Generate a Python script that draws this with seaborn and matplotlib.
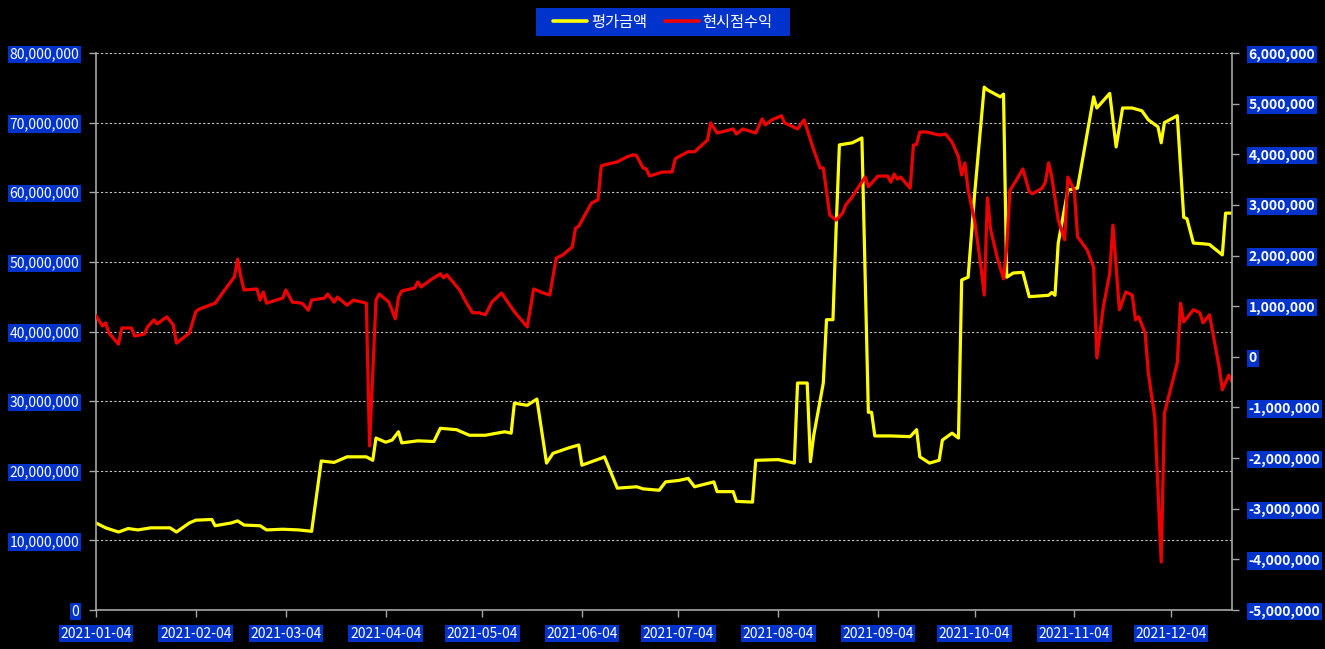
import matplotlib
matplotlib.use("Agg")
import matplotlib.pyplot as plt
import matplotlib.dates as mdates
from matplotlib.ticker import FixedLocator, FuncFormatter
from matplotlib.lines import Line2D
from matplotlib.patches import Rectangle
import seaborn as sns
import pandas as pd

# ---------------- data ----------------
eval_dates = [
    "2021-01-04", "2021-01-07", "2021-01-11", "2021-01-14", "2021-01-17", "2021-01-21", "2021-01-27", "2021-01-29", "2021-02-02", "2021-02-04",
    "2021-02-09", "2021-02-10", "2021-02-15", "2021-02-17", "2021-02-19", "2021-02-24", "2021-02-26", "2021-03-03", "2021-03-08", "2021-03-12",
    "2021-03-15", "2021-03-19", "2021-03-23", "2021-03-29", "2021-03-31", "2021-04-01", "2021-04-04", "2021-04-06", "2021-04-08", "2021-04-09",
    "2021-04-14", "2021-04-19", "2021-04-21", "2021-04-26", "2021-04-30", "2021-05-05", "2021-05-11", "2021-05-13", "2021-05-14", "2021-05-18",
    "2021-05-21", "2021-05-24", "2021-05-26", "2021-05-31", "2021-06-03", "2021-06-04", "2021-06-07", "2021-06-10", "2021-06-11", "2021-06-15",
    "2021-06-21", "2021-06-23", "2021-06-28", "2021-06-30", "2021-07-04", "2021-07-07", "2021-07-09", "2021-07-15", "2021-07-16", "2021-07-21",
    "2021-07-22", "2021-07-27", "2021-07-28", "2021-08-04", "2021-08-09", "2021-08-10", "2021-08-13", "2021-08-14", "2021-08-15", "2021-08-18",
    "2021-08-19", "2021-08-21", "2021-08-22", "2021-08-23", "2021-08-27", "2021-08-30", "2021-09-01", "2021-09-02", "2021-09-03", "2021-09-08",
    "2021-09-14", "2021-09-16", "2021-09-17", "2021-09-20", "2021-09-23", "2021-09-24", "2021-09-27", "2021-09-29", "2021-09-30", "2021-10-02",
    "2021-10-04", "2021-10-07", "2021-10-08", "2021-10-12", "2021-10-13", "2021-10-14", "2021-10-16", "2021-10-19", "2021-10-21", "2021-10-27",
    "2021-10-28", "2021-10-29", "2021-10-30", "2021-11-02", "2021-11-05", "2021-11-10", "2021-11-11", "2021-11-15", "2021-11-17", "2021-11-19",
    "2021-11-22", "2021-11-25", "2021-11-27", "2021-11-30", "2021-12-01", "2021-12-02", "2021-12-06", "2021-12-08", "2021-12-09", "2021-12-11",
    "2021-12-14", "2021-12-16", "2021-12-20", "2021-12-21", "2021-12-23",
]
eval_values = [
    12.5e6, 11.8e6, 11.2e6, 11.7e6, 11.5e6, 11.8e6, 11.8e6, 11.2e6, 12.5e6, 12.9e6,
    13.0e6, 12.1e6, 12.5e6, 12.8e6, 12.2e6, 12.1e6, 11.5e6, 11.6e6, 11.5e6, 11.3e6,
    21.4e6, 21.2e6, 22.0e6, 22.0e6, 21.5e6, 24.7e6, 24.1e6, 24.4e6, 25.6e6, 24.0e6,
    24.3e6, 24.2e6, 26.1e6, 25.9e6, 25.1e6, 25.1e6, 25.6e6, 25.4e6, 29.7e6, 29.4e6,
    30.3e6, 21.1e6, 22.5e6, 23.3e6, 23.7e6, 20.8e6, 21.3e6, 21.8e6, 22.0e6, 17.5e6,
    17.7e6, 17.4e6, 17.2e6, 18.4e6, 18.6e6, 18.9e6, 17.7e6, 18.4e6, 17.0e6, 17.0e6,
    15.6e6, 15.5e6, 21.5e6, 21.6e6, 21.1e6, 32.6e6, 32.6e6, 21.3e6, 25.0e6, 32.6e6,
    41.7e6, 41.7e6, 55.0e6, 66.8e6, 67.1e6, 67.8e6, 28.4e6, 28.4e6, 25.0e6, 25.0e6,
    24.9e6, 25.9e6, 22.0e6, 21.1e6, 21.5e6, 24.4e6, 25.4e6, 24.7e6, 47.4e6, 47.8e6,
    59.6e6, 75.1e6, 74.7e6, 73.7e6, 74.1e6, 47.8e6, 48.4e6, 48.5e6, 45.0e6, 45.2e6,
    45.6e6, 45.2e6, 52.7e6, 60.3e6, 60.6e6, 73.7e6, 72.1e6, 74.2e6, 66.5e6, 72.1e6,
    72.1e6, 71.7e6, 70.4e6, 69.4e6, 67.1e6, 70.0e6, 71.0e6, 56.4e6, 56.2e6, 52.7e6,
    52.6e6, 52.5e6, 51.0e6, 57.0e6, 57.0e6,
]

profit_dates = [
    "2021-01-04", "2021-01-06", "2021-01-07", "2021-01-08", "2021-01-11", "2021-01-12", "2021-01-15", "2021-01-16", "2021-01-19", "2021-01-20",
    "2021-01-22", "2021-01-23", "2021-01-26", "2021-01-28", "2021-01-29", "2021-02-02", "2021-02-04", "2021-02-05", "2021-02-10", "2021-02-16",
    "2021-02-17", "2021-02-18", "2021-02-19", "2021-02-23", "2021-02-24", "2021-02-25", "2021-02-26", "2021-03-03", "2021-03-04", "2021-03-06",
    "2021-03-09", "2021-03-11", "2021-03-12", "2021-03-16", "2021-03-17", "2021-03-19", "2021-03-20", "2021-03-23", "2021-03-25", "2021-03-29",
    "2021-03-30", "2021-04-01", "2021-04-02", "2021-04-05", "2021-04-07", "2021-04-08", "2021-04-09", "2021-04-13", "2021-04-14", "2021-04-15",
    "2021-04-18", "2021-04-21", "2021-04-22", "2021-04-23", "2021-04-27", "2021-04-29", "2021-05-01", "2021-05-03", "2021-05-05", "2021-05-07",
    "2021-05-10", "2021-05-14", "2021-05-18", "2021-05-20", "2021-05-23", "2021-05-25", "2021-05-27", "2021-05-29", "2021-06-01", "2021-06-02",
    "2021-06-03", "2021-06-07", "2021-06-09", "2021-06-10", "2021-06-11", "2021-06-15", "2021-06-18", "2021-06-20", "2021-06-21", "2021-06-23",
    "2021-06-24", "2021-06-25", "2021-06-29", "2021-07-02", "2021-07-03", "2021-07-04", "2021-07-07", "2021-07-09", "2021-07-13", "2021-07-14",
    "2021-07-16", "2021-07-21", "2021-07-22", "2021-07-24", "2021-07-28", "2021-07-30", "2021-07-31", "2021-08-02", "2021-08-05", "2021-08-06",
    "2021-08-10", "2021-08-12", "2021-08-15", "2021-08-17", "2021-08-18", "2021-08-20", "2021-08-22", "2021-08-24", "2021-08-25", "2021-08-27",
    "2021-08-29", "2021-08-31", "2021-09-01", "2021-09-04", "2021-09-07", "2021-09-08", "2021-09-09", "2021-09-10", "2021-09-11", "2021-09-14",
    "2021-09-15", "2021-09-16", "2021-09-17", "2021-09-19", "2021-09-23", "2021-09-25", "2021-09-27", "2021-09-29", "2021-09-30", "2021-10-01",
    "2021-10-02", "2021-10-04", "2021-10-06", "2021-10-07", "2021-10-08", "2021-10-09", "2021-10-11", "2021-10-13", "2021-10-14", "2021-10-15",
    "2021-10-17", "2021-10-19", "2021-10-21", "2021-10-22", "2021-10-25", "2021-10-26", "2021-10-27", "2021-10-28", "2021-10-30", "2021-11-01",
    "2021-11-02", "2021-11-04", "2021-11-05", "2021-11-08", "2021-11-10", "2021-11-11", "2021-11-13", "2021-11-15", "2021-11-16", "2021-11-18",
    "2021-11-20", "2021-11-22", "2021-11-23", "2021-11-24", "2021-11-26", "2021-11-27", "2021-11-29", "2021-12-01", "2021-12-02", "2021-12-06",
    "2021-12-07", "2021-12-08", "2021-12-11", "2021-12-13", "2021-12-14", "2021-12-16", "2021-12-19", "2021-12-20", "2021-12-22", "2021-12-23",
]
profit_values = [
    0.81e6, 0.61e6, 0.67e6, 0.47e6, 0.25e6, 0.57e6, 0.57e6, 0.41e6, 0.45e6, 0.59e6,
    0.73e6, 0.65e6, 0.79e6, 0.63e6, 0.27e6, 0.47e6, 0.89e6, 0.94e6, 1.06e6, 1.58e6,
    1.93e6, 1.58e6, 1.32e6, 1.34e6, 1.12e6, 1.28e6, 1.06e6, 1.16e6, 1.32e6, 1.08e6,
    1.06e6, 0.92e6, 1.12e6, 1.16e6, 1.24e6, 1.08e6, 1.18e6, 1.02e6, 1.12e6, 1.06e6,
    -1.76e6, 1.12e6, 1.24e6, 1.08e6, 0.75e6, 1.18e6, 1.30e6, 1.36e6, 1.48e6, 1.38e6,
    1.52e6, 1.64e6, 1.56e6, 1.62e6, 1.32e6, 1.08e6, 0.87e6, 0.87e6, 0.83e6, 1.08e6,
    1.26e6, 0.89e6, 0.59e6, 1.34e6, 1.26e6, 1.22e6, 1.95e6, 2.01e6, 2.17e6, 2.54e6,
    2.58e6, 3.04e6, 3.10e6, 3.77e6, 3.79e6, 3.85e6, 3.95e6, 3.99e6, 3.97e6, 3.73e6,
    3.71e6, 3.57e6, 3.65e6, 3.65e6, 3.91e6, 3.95e6, 4.05e6, 4.05e6, 4.28e6, 4.62e6,
    4.42e6, 4.50e6, 4.40e6, 4.50e6, 4.42e6, 4.70e6, 4.58e6, 4.68e6, 4.76e6, 4.62e6,
    4.50e6, 4.68e6, 4.09e6, 3.73e6, 3.73e6, 2.80e6, 2.70e6, 2.84e6, 3.00e6, 3.16e6,
    3.36e6, 3.55e6, 3.36e6, 3.57e6, 3.57e6, 3.45e6, 3.61e6, 3.51e6, 3.55e6, 3.33e6,
    4.18e6, 4.20e6, 4.44e6, 4.44e6, 4.38e6, 4.40e6, 4.24e6, 3.95e6, 3.59e6, 3.83e6,
    3.29e6, 2.70e6, 1.77e6, 1.22e6, 3.14e6, 2.51e6, 1.97e6, 1.54e6, 2.17e6, 3.29e6,
    3.49e6, 3.71e6, 3.26e6, 3.22e6, 3.33e6, 3.45e6, 3.83e6, 3.55e6, 2.70e6, 2.31e6,
    3.55e6, 3.29e6, 2.37e6, 2.11e6, 1.77e6, -0.02e6, 0.98e6, 1.65e6, 2.60e6, 0.93e6,
    1.28e6, 1.22e6, 0.73e6, 0.79e6, 0.47e6, -0.32e6, -1.19e6, -4.05e6, -1.11e6, -0.12e6,
    1.06e6, 0.69e6, 0.93e6, 0.87e6, 0.67e6, 0.83e6, -0.20e6, -0.65e6, -0.36e6, -0.49e6,
]

series_names = ["평가금액", "현시점수익"]
left_ticks = [0, 10e6, 20e6, 30e6, 40e6, 50e6, 60e6, 70e6, 80e6]
right_ticks = [-5e6, -4e6, -3e6, -2e6, -1e6, 0, 1e6, 2e6, 3e6, 4e6, 5e6, 6e6]
x_ticks = ["2021-01-04", "2021-02-04", "2021-03-04", "2021-04-04", "2021-05-04", "2021-06-04",
           "2021-07-04", "2021-08-04", "2021-09-04", "2021-10-04", "2021-11-04", "2021-12-04"]
x_range = ["2021-01-04", "2021-12-23"]

# ---------------- style ----------------
BG = "#000000"
BOX = "#0033CC"
AXC = "#A6A6A6"
YEL = "#FFFF00"
RED = "#EE0000"

sns.set_style("dark")
plt.rcParams["font.family"] = ["Noto Sans CJK KR", "DejaVu Sans"]
plt.rcParams["axes.unicode_minus"] = False

df_eval = pd.DataFrame({"date": pd.to_datetime(eval_dates), "value": eval_values})
df_profit = pd.DataFrame({"date": pd.to_datetime(profit_dates), "value": profit_values})

fig = plt.figure(figsize=(13.25, 6.49), dpi=100, facecolor=BG)
ax = fig.add_axes([96 / 1325, 39 / 649, 1136 / 1325, 557 / 649])
ax.set_facecolor(BG)
ax2 = ax.twinx()

sns.lineplot(data=df_eval, x="date", y="value", ax=ax, color=YEL, linewidth=2.3,
             legend=False, errorbar=None)
sns.lineplot(data=df_profit, x="date", y="value", ax=ax2, color=RED, linewidth=2.3,
             legend=False, errorbar=None)

ax.set_xlim(pd.to_datetime(x_range[0]), pd.to_datetime(x_range[1]))
ax.set_ylim(left_ticks[0], left_ticks[-1])
ax2.set_ylim(right_ticks[0], right_ticks[-1])

ax.set_xlabel("")
ax.set_ylabel("")
ax2.set_ylabel("")

fmt = FuncFormatter(lambda v, p: f"{v:,.0f}")
ax.yaxis.set_major_locator(FixedLocator(left_ticks))
ax.yaxis.set_major_formatter(fmt)
ax2.yaxis.set_major_locator(FixedLocator(right_ticks))
ax2.yaxis.set_major_formatter(fmt)
ax.xaxis.set_major_locator(FixedLocator(mdates.date2num(pd.to_datetime(x_ticks))))
ax.xaxis.set_major_formatter(mdates.DateFormatter("%Y-%m-%d"))

ax.grid(False)
ax2.grid(False)
ax.yaxis.grid(True, color="#C8C8C8", linestyle=(0, (2, 2)), linewidth=0.8)
ax.set_axisbelow(True)

for a in (ax, ax2):
    for s in a.spines.values():
        s.set_visible(False)
ax.spines["left"].set_visible(True)
ax.spines["bottom"].set_visible(True)
ax2.spines["right"].set_visible(True)
for s in (ax.spines["left"], ax.spines["bottom"], ax2.spines["right"]):
    s.set_color(AXC)
    s.set_linewidth(1.2)

ax.tick_params(axis="y", direction="out", length=5, width=1, color=AXC,
               labelcolor="white", labelsize=10, pad=7, left=True)
ax.tick_params(axis="x", direction="out", length=5, width=1, color=AXC,
               labelcolor="white", labelsize=10, pad=7, bottom=True)
ax2.tick_params(axis="y", direction="out", length=5, width=1, color=AXC,
                labelcolor="white", labelsize=10, pad=7, right=True)

for lab in ax.get_yticklabels() + ax.get_xticklabels() + ax2.get_yticklabels():
    lab.set_bbox(dict(facecolor=BOX, edgecolor="none", pad=1.2))
for lab in ax2.get_yticklabels():
    lab.set_fontweight("bold")

# legend background box
fig.patches.append(Rectangle((536 / 1325, 1 - 36 / 649), 254 / 1325, 28 / 649,
                             transform=fig.transFigure, facecolor=BOX, edgecolor="none",
                             zorder=0))
handles = [Line2D([0], [0], color=YEL, linewidth=2.6),
           Line2D([0], [0], color=RED, linewidth=2.6)]
leg = fig.legend(handles, series_names, loc="center", bbox_to_anchor=(663 / 1325, 1 - 22 / 649),
                 ncol=2, frameon=False, fontsize=11, labelcolor="white", handlelength=2.2,
                 handletextpad=0.25, columnspacing=1.2, borderpad=0.2)

fig.savefig("out.png", dpi=100, facecolor=BG)
